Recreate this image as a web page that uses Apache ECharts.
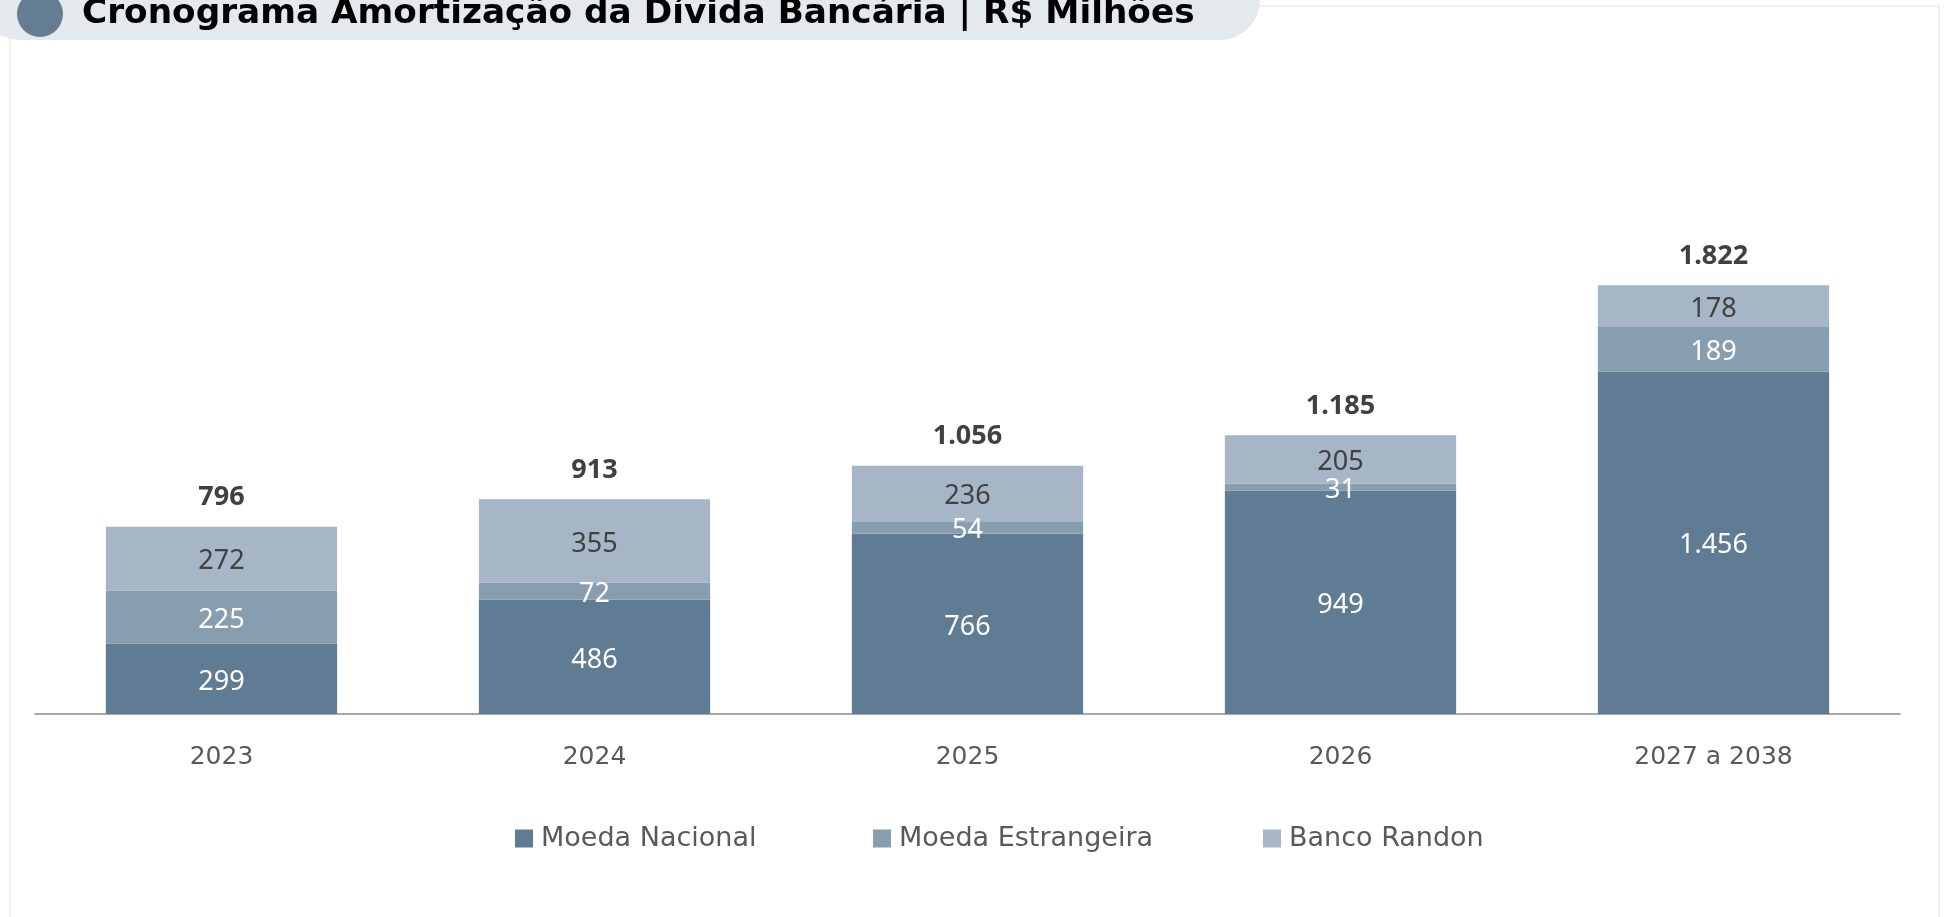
<!DOCTYPE html>
<html>
<head>
<meta charset="utf-8">
<title>Cronograma Amortização da Dívida Bancária</title>
<script src="https://cdn.jsdelivr.net/npm/echarts@6/dist/echarts.min.js"></script>
<style>
  html, body { margin: 0; padding: 0; background: #fff; }
  #chart { width: 1947px; height: 917px; }
</style>
</head>
<body>
<div id="chart"></div>
<script>
// dados (R$ milhões)
var categories = ['2023', '2024', '2025', '2026', '2027 a 2038'];
var moedaNacional = [299, 486, 766, 949, 1456];
var moedaEstrangeira = [225, 72, 54, 31, 189];
var bancoRandon = [272, 355, 236, 205, 178];
var totals = [796, 913, 1056, 1185, 1822];

var seriesNames = ['Moeda Nacional', 'Moeda Estrangeira', 'Banco Randon'];
var colors = ['#5f7c94', '#879eb1', '#a6b6c6'];

var font = '"Noto Sans", "Open Sans", sans-serif';
var wideFont = '"DejaVu Sans", "Noto Sans", sans-serif';

// formato pt-BR: 1.456
function fmt(v) {
  return v.toLocaleString('pt-BR');
}

var chart = echarts.init(document.getElementById('chart'));

function barSeries(name, data, color, labelColor) {
  return {
    name: name,
    type: 'bar',
    stack: 'total',
    barWidth: '62%',
    data: data,
    itemStyle: { color: color },
    label: {
      show: true,
      position: 'inside',
      offset: [0, 3],
      color: labelColor,
      fontFamily: font,
      fontSize: 27,
      formatter: function (p) { return fmt(p.value); }
    },
    emphasis: { disabled: true }
  };
}

function legendAt(name, left) {
  return {
    data: [name],
    left: left,
    top: 825,
    padding: 0,
    itemWidth: 18,
    itemHeight: 18,
    icon: 'rect',
    textStyle: { color: '#595959', fontSize: 27, fontFamily: wideFont, padding: [0, 0, 0, 3] },
    selectedMode: false
  };
}

chart.setOption({
  animation: false,
  color: colors,
  graphic: [
    {
      type: 'rect',
      shape: { x: 10, y: 6, width: 1929, height: 930 },
      style: { fill: 'none', stroke: '#ececec', lineWidth: 1.5 },
      z: -10
    },
    {
      type: 'rect',
      shape: { x: -20, y: -40, width: 1280, height: 80, r: 40 },
      style: { fill: '#e4e9ee' },
      z: 1
    },
    {
      type: 'circle',
      shape: { cx: 40, cy: 14, r: 23 },
      style: { fill: '#647d93' },
      z: 2
    },
    {
      type: 'text',
      left: 82,
      top: -3,
      style: {
        text: 'Cronograma Amortização da Dívida Bancária | R$ Milhões',
        fill: '#000',
        font: 'bold 34.3px ' + wideFont
      },
      z: 3
    }
  ],
  legend: [
    legendAt(seriesNames[0], 515),
    legendAt(seriesNames[1], 873),
    legendAt(seriesNames[2], 1263)
  ],
  grid: { left: 35, right: 47, top: 126, bottom: 203 },
  xAxis: {
    type: 'category',
    data: categories,
    axisTick: { show: false },
    axisLine: { lineStyle: { color: '#8c8c8c', width: 1.5 } },
    axisLabel: { color: '#595959', fontSize: 25, fontFamily: wideFont, margin: 31 }
  },
  yAxis: {
    type: 'value',
    min: 0,
    max: 2500,
    show: false,
    splitLine: { show: false }
  },
  series: [
    barSeries(seriesNames[0], moedaNacional, colors[0], '#ffffff'),
    barSeries(seriesNames[1], moedaEstrangeira, colors[1], '#ffffff'),
    barSeries(seriesNames[2], bancoRandon, colors[2], '#404040'),
    {
      name: 'Total',
      type: 'line',
      data: totals,
      symbol: 'circle',
      symbolSize: 1,
      showSymbol: true,
      itemStyle: { color: 'rgba(0,0,0,0)' },
      silent: true,
      lineStyle: { width: 0, opacity: 0 },
      label: {
        show: true,
        position: 'top',
        distance: 15,
        color: '#404040',
        fontWeight: 'bold',
        fontSize: 27,
        fontFamily: font,
        formatter: function (p) { return fmt(p.value); }
      },
      z: 5
    }
  ]
});
</script>
</body>
</html>
